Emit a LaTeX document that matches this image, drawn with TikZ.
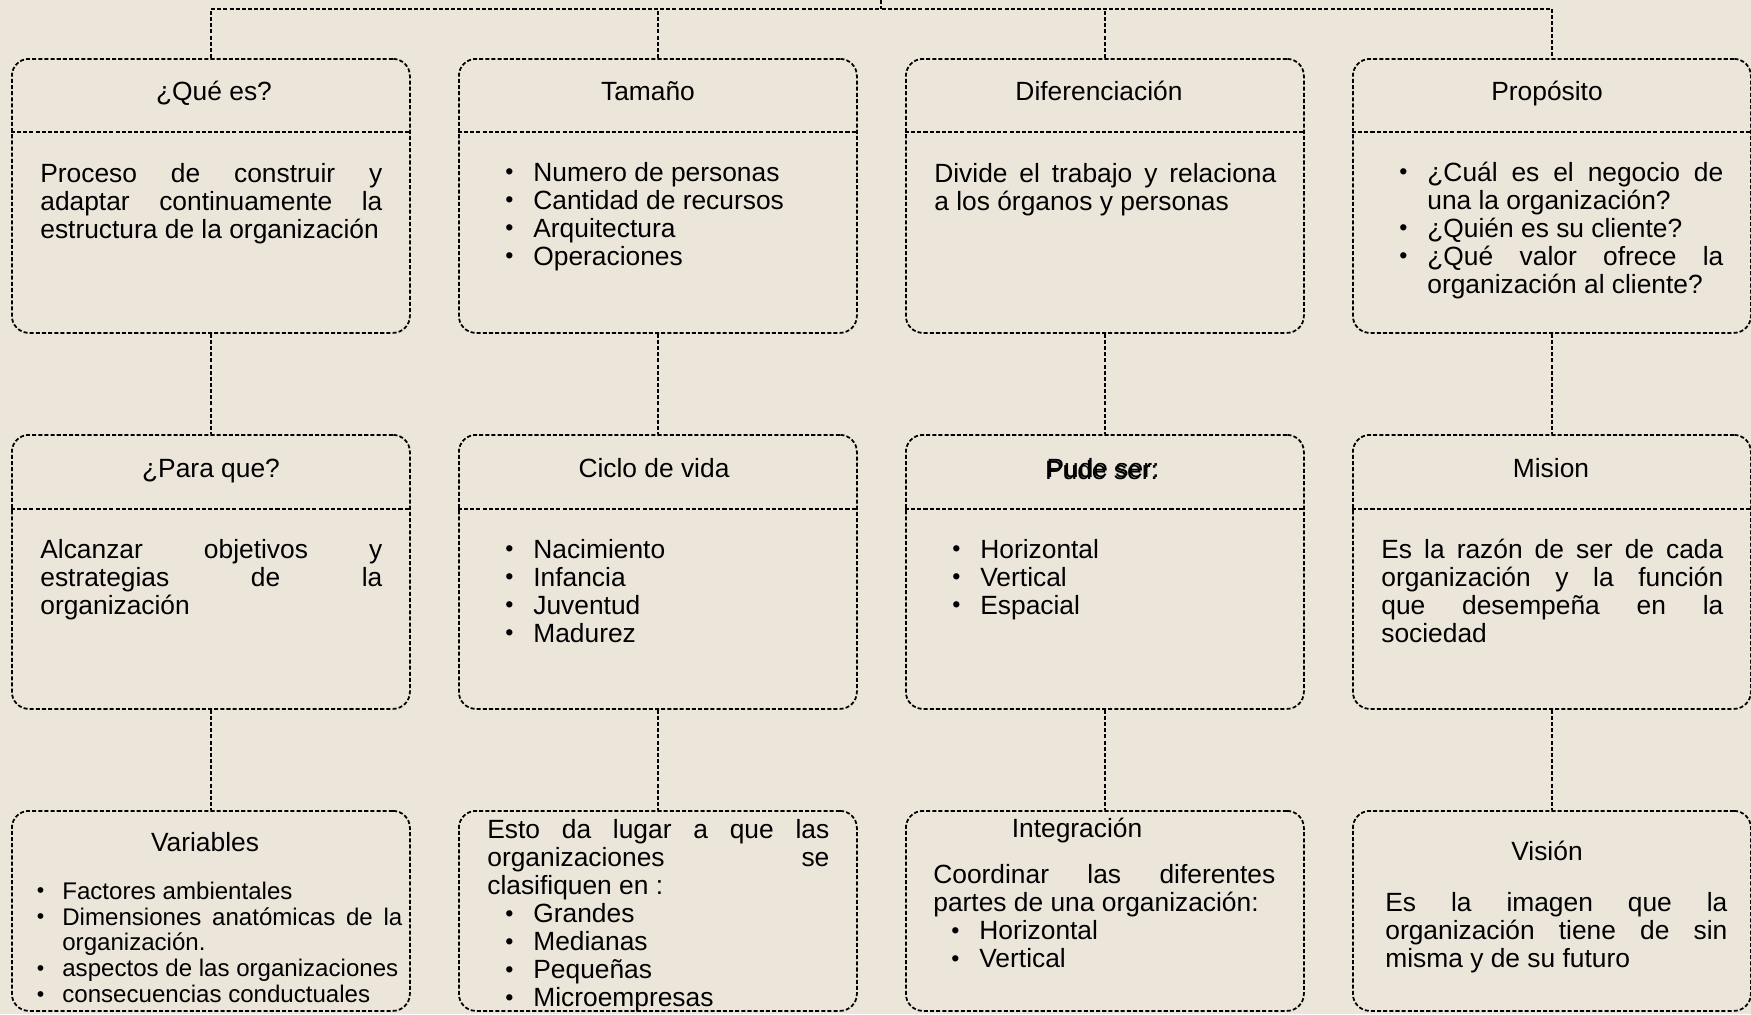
\documentclass[tikz,border=0pt]{standalone}
\usepackage{fontspec}
\setmainfont{Liberation Sans}
\usepackage{tikz}

\definecolor{papel}{RGB}{236,229,218}
\newcommand{\cuerpo}{\fontsize{15}{15.9}\selectfont}
\newcommand{\chico}{\fontsize{13.7}{14.7}\selectfont}
\newcommand{\punto}{\raisebox{0.05em}{\scalebox{0.88}{\textbullet}}}
\newenvironment{puntos}[1][0.92cm]{%
  \begin{list}{\punto}{%
    \setlength{\leftmargin}{#1}%
    \setlength{\labelwidth}{0.3cm}%
    \setlength{\labelsep}{0.75em}%
    \setlength{\itemsep}{0pt}\setlength{\parsep}{0pt}%
    \setlength{\topsep}{0pt}\setlength{\partopsep}{0pt}}}%
  {\end{list}}
\hyphenpenalty=10000
\exhyphenpenalty=10000
\tolerance=10000

\begin{document}
\begin{tikzpicture}[x=0.2mm,y=-0.2mm,
  raya/.style={line width=1pt,dash pattern=on 2.3pt off 1.2pt},
  caja/.style={raya,draw,anchor=north west,rounded corners=0.34cm,minimum width=7.96cm},
  titulo/.style={anchor=base,font=\cuerpo,inner sep=0pt},
  texto/.style={anchor=north west,font=\cuerpo,inner sep=0pt,text width=6.84cm,align=justify}]
\useasboundingbox (0,0) rectangle (1751,1014);
\fill[papel] (0,0) rectangle (1751,1014);

% cajas
\node[caja,minimum height=5.48cm] (qe) at (11,58) {};
\node[caja,minimum height=5.48cm] (ta) at (458,58) {};
\node[caja,minimum height=5.48cm] (di) at (905,58) {};
\node[caja,minimum height=5.48cm] (pr) at (1352,58) {};
\node[caja,minimum height=5.48cm] (pa) at (11,434) {};
\node[caja,minimum height=5.48cm] (ci) at (458,434) {};
\node[caja,minimum height=5.48cm] (pu) at (905,434) {};
\node[caja,minimum height=5.48cm] (mi) at (1352,434) {};
\node[caja,minimum height=4cm] (va) at (11,810) {};
\node[caja,minimum height=4cm] (es) at (458,810) {};
\node[caja,minimum height=4cm] (in) at (905,810) {};
\node[caja,minimum height=4cm] (vi) at (1352,810) {};

\foreach \n in {qe,ta,di,pr} \draw[raya] (\n.west |- 0,132) -- (\n.east |- 0,132);
\foreach \n in {pa,ci,pu,mi} \draw[raya] (\n.west |- 0,509) -- (\n.east |- 0,509);

% conectores
\coordinate (raiz) at (881,0);
\coordinate (bus) at (881,9);
\draw[raya] (raiz) -- (bus);
\draw[raya] (qe.north) |- (bus) -| (pr.north);
\draw[raya] (ta.north) -- (ta.north |- bus);
\draw[raya] (di.north) -- (di.north |- bus);
\foreach \a/\b in {qe/pa,pa/va,ta/ci,ci/es,di/pu,pu/in,pr/mi,mi/vi}
  \draw[raya] (\a.south) -- (\b.north);

% titulos
\node[titulo] (qe-h) at (214,100) {¿Qué es?};
\node[titulo] (ta-h) at (648,100) {Tamaño};
\node[titulo] (di-h) at (1099,100) {Diferenciación};
\node[titulo] (pr-h) at (1547,100) {Propósito};
\node[titulo] (pa-h) at (211,477) {¿Para que?};
\node[titulo] (ci-h) at (654,477) {Ciclo de vida};
\node[titulo] (pu-h) at (1103,477) {Pude ser:};
\node[titulo] (pu-h2) at (1101.5,479) {Pude ser:};
\node[titulo] (mi-h) at (1551,477) {Mision};
\node[titulo] (va-h) at (205,851) {Variables};
\node[titulo] (in-h) at (1077,837) {Integración};
\node[titulo] (vi-h) at (1547,860) {Visión};

% textos
\node[texto] (qe-t) at (40,163) {\strut Proceso de construir y\linebreak adaptar continuamente la\linebreak estructura de la organización};
\node[texto] (ta-t) at (487,153) {\begin{puntos}\item\strut Numero de personas \item Cantidad de recursos \item Arquitectura \item Operaciones\end{puntos}};
\node[texto] (di-t) at (934,163) {\strut Divide el trabajo y relaciona\linebreak a los órganos y personas};
\node[texto] (pr-t) at (1381,153) {\begin{puntos}\item\strut ¿Cuál es el negocio de una la organización? \item ¿Quién es su cliente? \item ¿Qué valor ofrece la organización al cliente?\end{puntos}};
\node[texto] (pa-t) at (40,539) {\strut Alcanzar objetivos y\linebreak estrategias de la\linebreak organización};
\node[texto] (ci-t) at (487,530) {\begin{puntos}\item\strut Nacimiento \item Infancia \item Juventud \item Madurez\end{puntos}};
\node[texto] (pu-t) at (934,530) {\begin{puntos}\item\strut Horizontal \item Vertical \item Espacial\end{puntos}};
\node[texto] (mi-t) at (1381,539) {\strut Es la razón de ser de cada\linebreak organización y la función\linebreak que desempeña en la\linebreak sociedad};
\node[texto,font=\chico,text width=7.66cm] (va-t) at (19,873) {\begin{puntos}[0.86cm]\item\strut Factores ambientales \item Dimensiones anatómicas de la organización. \item aspectos de las organizaciones \item consecuencias conductuales\end{puntos}};
\node[texto] (es-t) at (487,819) {\strut Esto da lugar a que las\linebreak organizaciones se\linebreak clasifiquen en :\begin{puntos}\item Grandes \item Medianas \item Pequeñas \item Microempresas\end{puntos}};
\node[texto] (in-t) at (933,864) {\strut Coordinar las diferentes\linebreak partes de una organización:\begin{puntos}\item Horizontal \item Vertical\end{puntos}};
\node[texto] (vi-t) at (1385,892) {\strut Es la imagen que la\linebreak organización tiene de sin\linebreak misma y de su futuro};
\end{tikzpicture}
\end{document}
